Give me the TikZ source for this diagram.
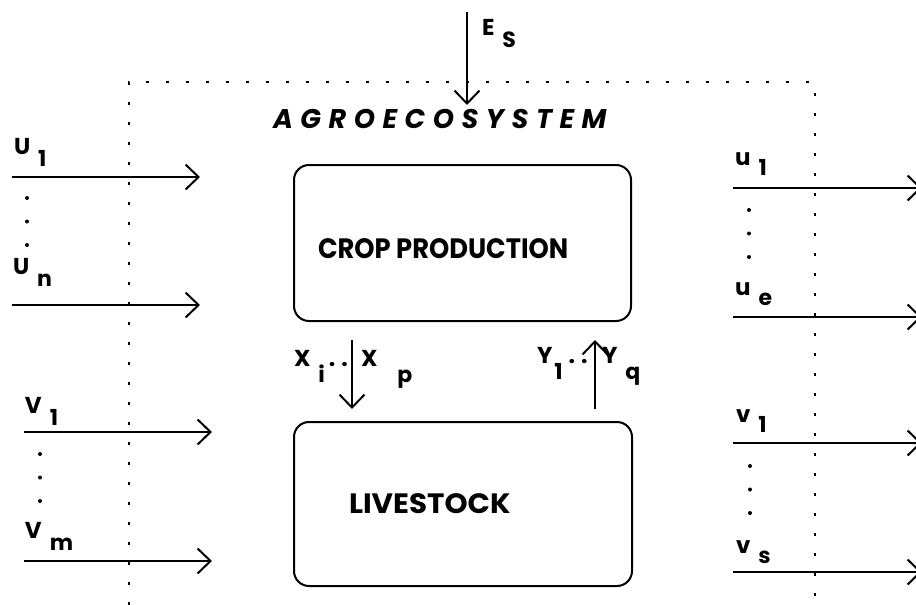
\documentclass[tikz,border=0pt]{standalone}
\usepackage{fontspec}
\setmainfont{Poppins}
\usetikzlibrary{arrows.meta}
\tikzset{>={Straight Barb[length=6.5pt,width=12.5pt]}}
\tikzset{flowbox/.style={draw, line width=1pt, rounded corners=7.5pt, inner sep=0pt}}
\tikzset{boxtxt/.style={font=\fontsize{14}{16}\selectfont\bfseries, inner sep=0pt, anchor=base west}}
\tikzset{flowlbl/.style={font=\fontsize{11.5}{13}\selectfont\bfseries, inner sep=0pt, anchor=base west}}
\tikzset{flowlow/.style={flowlbl, font=\fontsize{11.5}{13}\selectfont\bfseries}}
\newcommand{\sbs}[3][6pt]{#2\hspace{4pt}\raisebox{-#1}{\fontsize{11}{12}\selectfont #3}}

\begin{document}
\begin{tikzpicture}[x=0.5pt, y=-0.5pt, line width=1pt]
\useasboundingbox (0,0) rectangle (916,605);
% system boundary
\draw[line width=0.7pt, dash pattern=on 1.5pt off 8.5pt] (129,605) -- (129,82) -- (815,82) -- (815,605);
\node[font=\fontsize{13.5}{15}\selectfont\bfseries\itshape, inner sep=0pt, anchor=base west] (agro) at (272,128)
  {\addfontfeature{LetterSpace=28}AGROECOSYSTEM};
% subsystems
\node[flowbox, minimum width=168.5pt, minimum height=78pt, anchor=north west] (crop) at (293,164) {};
\node[flowbox, minimum width=169pt, minimum height=82pt, anchor=north west] (live) at (293,421) {};
\node[boxtxt] (croplbl) at (317,258) {\addfontfeature{FakeStretch=0.92}CROP PRODUCTION};
\node[boxtxt] (livelbl) at (348,513) {\addfontfeature{FakeStretch=1.05}LIVESTOCK};
% solar energy
\coordinate (esA) at (467,12);
\coordinate (esB) at (467,105);
\draw[->] (esA) -- (esB);
\node[flowlbl] (es) at (481,35) {\sbs{E}{S}};
% flows between subsystems
\coordinate (xA) at ([xshift=29.5pt,yshift=-9pt]crop.south west);
\coordinate (xB) at ([xshift=29.5pt,yshift=6pt]live.north west);
\coordinate (yA) at ([xshift=151pt,yshift=6pt]live.north west);
\coordinate (yB) at ([xshift=151pt,yshift=-9pt]crop.south west);
\draw[->] (xA) -- (xB);
\draw[->] (yA) -- (yB);
\node[flowlbl] (xl) at (293,366) {\sbs[8pt]{X}{i}\hspace{2pt}.\hspace{3pt}.};
\node[flowlbl] (xr) at (360,366) {\sbs[8pt]{X}{\hspace{6pt}p}};
\node[flowlbl] (yl) at (536,363) {Y\hspace{1pt}\raisebox{-8pt}{\fontsize{11}{12}\selectfont 1}\hspace{3pt}.\hspace{3pt}.};
\node[flowlbl] (yr) at (601,363) {\sbs[8pt]{Y}{q}};
% inputs and outputs
\foreach \nm/\xa/\xb/\ya in {u1/12/200/177, un/12/200/305, v1/24/212/432, vm/24/212/561,
    ro1/733/922/188, roe/733/922/317, rv1/733/922/443, rvs/733/922/572}{
  \coordinate (\nm-a) at (\xa,\ya);
  \coordinate (\nm-b) at (\xb,\ya);
  \draw[->] (\nm-a) -- (\nm-b);
}
\node[flowlbl] (lu1) at (13,154) {\sbs{U}{1}};
\node[flowlbl] (lun) at (12,274) {\sbs{U}{n}};
\node[flowlbl] (lv1) at (24,413) {\sbs{V}{1}};
\node[flowlbl] (lvm) at (24,538) {\sbs{V}{m}};
\node[flowlow] (ru1) at (734,165) {\sbs[5pt]{u}{1}};
\node[flowlow] (rue) at (734,295) {\sbs[5pt]{u}{e}};
\node[flowlow] (rv1) at (735,422) {\sbs[5pt]{v}{1}};
\node[flowlow] (rvs) at (735,553) {\sbs[5pt]{v}{s}};
\foreach \xd/\ya in {27/198, 40/454, 749/210, 750/466}{
  \foreach \k in {0,1,2}
    \fill (\xd,\ya+23.5*\k) circle (1pt);
}
\end{tikzpicture}
\end{document}
